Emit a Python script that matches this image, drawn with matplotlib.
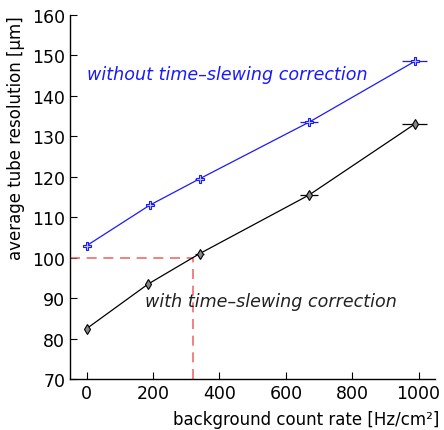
import numpy as np
import matplotlib.pyplot as plt

# background rate [Hz/cm2] and resolution [um]
rate_wo = [0, 190, 340, 670, 988]
res_wo = [103.0, 113.0, 119.5, 133.5, 148.5]
xerr_wo = [1, 7, 13, 27, 38]

rate_w = [0, 185, 340, 670, 988]
res_w = [82.5, 93.5, 101.0, 115.5, 133.0]
xerr_w = [1, 7, 13, 27, 38]

cut_rate = 320
cut_res = 100

fig = plt.figure(figsize=(4.44, 4.31), dpi=100)
ax = fig.add_axes([0.158, 0.118, 0.822, 0.845])

ax.plot([-50, cut_rate], [cut_res, cut_res], color='#f05050', lw=1.2,
        dashes=(6, 4), alpha=0.85)
ax.plot([cut_rate, cut_rate], [70, cut_res], color='#f05050', lw=1.2,
        dashes=(6, 4), alpha=0.85)

ax.errorbar(rate_wo, res_wo, xerr=xerr_wo, color='#1a1aff', lw=0.9,
            elinewidth=0.9, capsize=0, marker='P', ms=6,
            mfc='#c8c8ff', mec='#1a1aff', mew=0.8)
ax.errorbar(rate_w, res_w, xerr=xerr_w, color='black', lw=0.9,
            elinewidth=0.9, capsize=0, marker='d', ms=5,
            mfc='#888888', mec='black', mew=0.8)

ax.text(0, 145.3, 'without time\u2013slewing correction', color='#1a1aff',
        style='italic', fontsize=12.6, va='center', ha='left')
ax.text(175, 89.3, 'with time\u2013slewing correction', color='#222222',
        style='italic', fontsize=12.6, va='center', ha='left')

ax.set_xlim(-50, 1050)
ax.set_ylim(70, 160)
ax.set_xticks([0, 200, 400, 600, 800, 1000])
ax.set_yticks(np.arange(70, 161, 10))
ax.tick_params(direction='in', labelsize=12.5, length=5, width=0.8)
for s in ['top', 'right']:
    ax.spines[s].set_visible(False)
ax.spines['left'].set_linewidth(1)
ax.spines['bottom'].set_linewidth(1)

ax.set_ylabel('average tube resolution [\u00b5m]', fontsize=12)
ax.set_xlabel('background count rate [Hz/cm\u00b2]', fontsize=12)
ax.xaxis.set_label_coords(1.012, -0.085)
ax.xaxis.label.set_ha('right')
ax.yaxis.set_label_coords(-0.125, 0.665)

fig.savefig('out.png', dpi=100)
